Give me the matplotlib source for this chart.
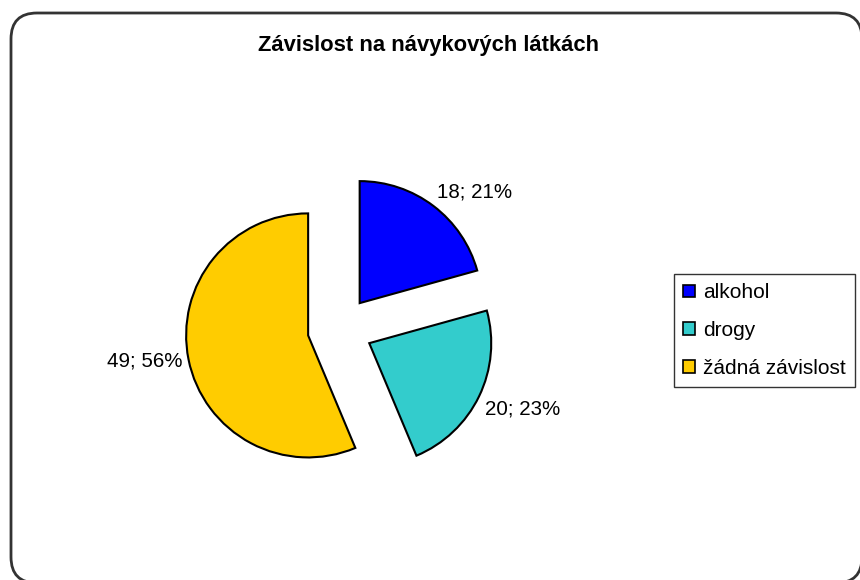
import numpy as np
import matplotlib
matplotlib.use("Agg")
import matplotlib.pyplot as plt
from matplotlib.patches import FancyBboxPatch

categories = ["alkohol", "drogy", "žádná závislost"]
values = [18, 20, 49]
colors = ["#0000FF", "#33CCCC", "#FFCC00"]
title = "Závislost na návykových látkách"

plt.rcParams['font.family'] = ['Liberation Sans', 'DejaVu Sans']

W, H = 860, 580
fig = plt.figure(figsize=(W / 100, H / 100), dpi=100)
ax = fig.add_axes([0, 0, 1, 1])
ax.set_xlim(0, W)
ax.set_ylim(0, H)
ax.set_aspect('equal')
ax.axis('off')

# rounded chart-area border
border = FancyBboxPatch((11, -3), 851, 570, boxstyle="round,pad=0,rounding_size=26",
                        transform=ax.transData, facecolor='white', edgecolor='#333333',
                        linewidth=2, clip_on=False, zorder=0)
ax.add_patch(border)

radius = 122
wedges, _ = ax.pie(values, colors=colors, startangle=90, counterclock=False,
                   center=(340, 251), radius=radius, explode=[32.5] * len(values),
                   wedgeprops=dict(edgecolor='black', linewidth=1.5), frame=True)
ax.set_xlim(0, W)
ax.set_ylim(0, H)
ax.axis('off')

total = sum(values)
for w, v in zip(wedges, values):
    th = np.deg2rad((w.theta1 + w.theta2) / 2)
    cx, cy = w.center
    px = cx + 1.05 * w.r * np.cos(th)
    py = cy + 1.05 * w.r * np.sin(th)
    ha = 'left' if np.cos(th) >= 0 else 'right'
    s = np.sin(th)
    va = 'bottom' if s > 0.5 else ('top' if s < -0.3 else 'center')
    ax.text(px, py, f"{v}; {round(100 * v / total)}%", ha=ha, va=va, fontsize=14.8)

ax.text(W / 2 - 2, H - 45, title, ha='center', va='center', fontsize=15.8, fontweight='bold')

leg = fig.legend(wedges, categories, loc='upper left', bbox_to_anchor=(674 / W, 1 - 274 / H),
                 fontsize=15, frameon=True, fancybox=False, edgecolor='black',
                 handlelength=0.55, handleheight=0.55, handletextpad=0.4,
                 labelspacing=0.9, borderpad=0.45, borderaxespad=0)
leg.get_frame().set_linewidth(1)
for h in leg.legend_handles:
    h.set_edgecolor('black')
    h.set_linewidth(1.2)

fig.savefig("out.png", dpi=100)
